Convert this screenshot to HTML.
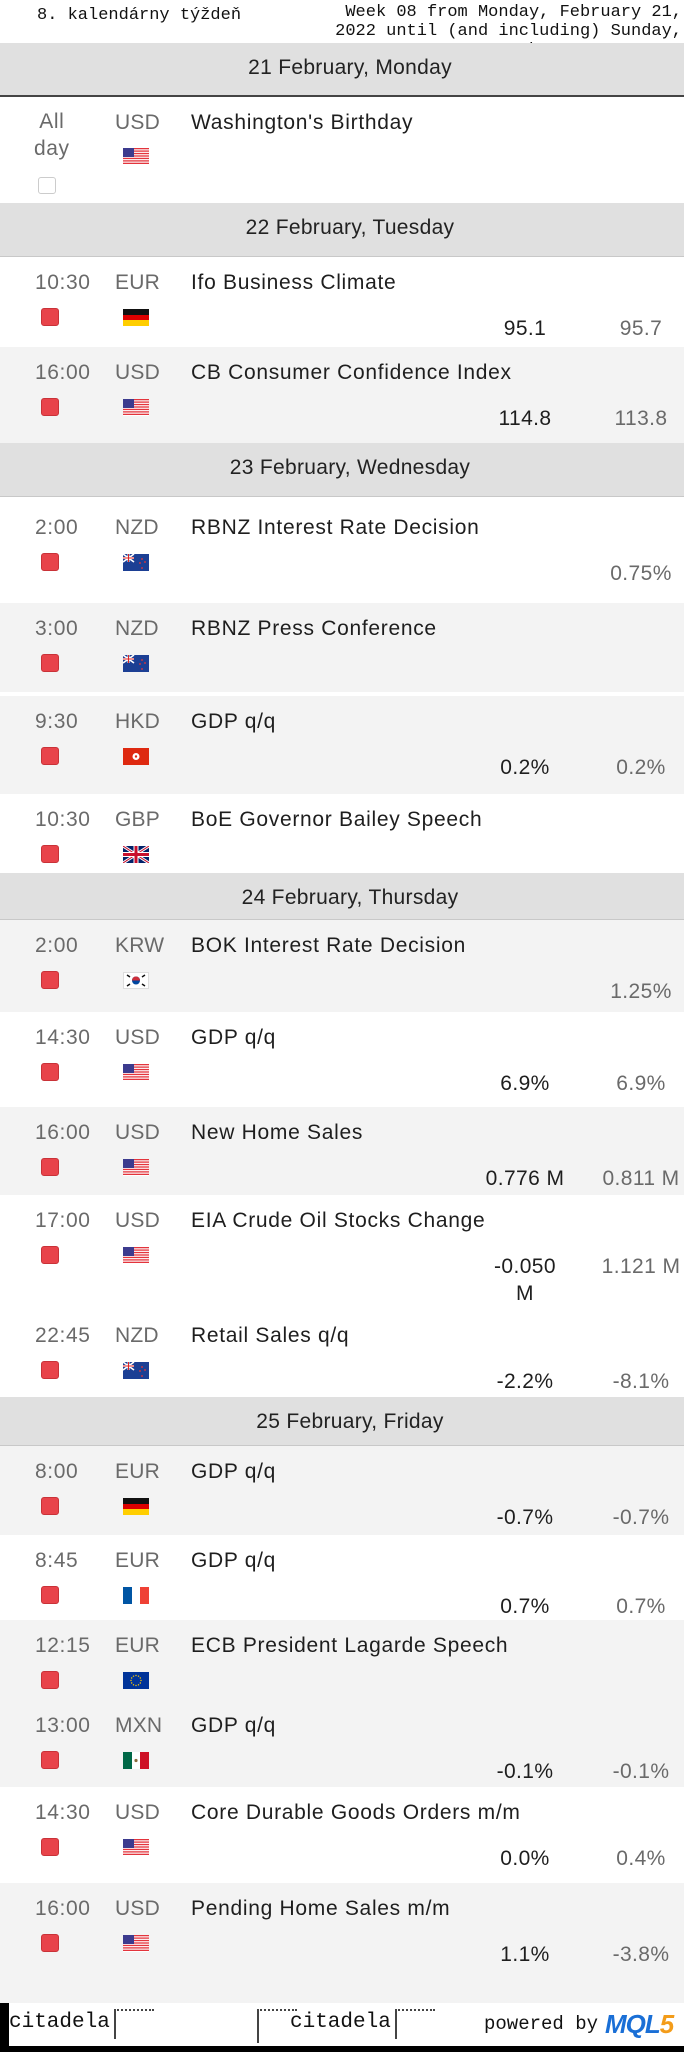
<!DOCTYPE html>
<html><head><meta charset="utf-8">
<style>
*{margin:0;padding:0;box-sizing:border-box}
html,body{width:684px;height:2052px;overflow:hidden;background:#fff}
body{position:relative;font-family:"Liberation Sans",sans-serif;}
.abs{position:absolute}
.row{position:absolute;left:0;width:684px}
.day{background:#e0e0e0;border-bottom:1px solid #c8c8c8;text-align:center;color:#222;font-size:21px;letter-spacing:0.3px}
.day span{position:absolute;left:0;width:700px;top:13px}
.t{position:absolute;left:35px;color:#6a6a6a;font-size:21px;letter-spacing:0.6px;white-space:nowrap}
.c{position:absolute;left:115px;color:#6a6a6a;font-size:21px;letter-spacing:0.2px}
.e{position:absolute;left:191px;color:#1e1e1e;font-size:21px;letter-spacing:0.7px;white-space:nowrap}
.imp{position:absolute;left:41px;width:18px;height:18px;background:#e8434a;border:1px solid #c93238;border-radius:3px}
.flag{position:absolute;left:123px;width:26px;height:17px}
.act{position:absolute;left:465px;width:120px;text-align:center;color:#1e1e1e;font-size:21px;letter-spacing:0.4px;line-height:27px}
.prev{position:absolute;left:596px;width:90px;text-align:center;color:#6a6a6a;font-size:21px;letter-spacing:0.4px;white-space:nowrap;line-height:27px}
.mono{font-family:"Liberation Mono",monospace}
</style></head><body>
<div class="abs mono" style="left:37px;top:6px;font-size:17px;color:#111">8. kalendárny týždeň</div>
<div class="abs mono" style="left:330px;top:3px;width:352px;height:40px;overflow:hidden;font-size:17px;line-height:19px;color:#111;text-align:right">Week 08 from Monday, February 21,<br>2022 until (and including) Sunday,<br>February 27, 2022</div>
<div id="cal"></div>
<div class="abs" style="left:0;top:2003px;width:684px;height:49px;background:#fff;border-left:9px solid #000;border-bottom:6px solid #000">
  <div class="abs mono" style="left:0;top:8px;font-size:21px;color:#111">citadela</div>
  <div class="abs" style="left:105px;top:6px;width:40px;height:30px;border-left:2px solid #444;border-top:2px dotted #444"></div>
  <div class="abs" style="left:248px;top:6px;width:40px;height:34px;border-left:2px solid #444;border-top:2px dotted #444"></div>
  <div class="abs mono" style="left:281px;top:8px;font-size:21px;color:#111">citadela</div>
  <div class="abs" style="left:386px;top:6px;width:40px;height:30px;border-left:2px solid #444;border-top:2px dotted #444"></div>
  <div class="abs mono" style="left:475px;top:10px;font-size:19px;color:#111">powered by</div>
  <div class="abs" style="left:596px;top:6px;font-size:26px;font-weight:bold;font-style:italic;color:#1a6fd6;letter-spacing:-1px">MQL<span style="color:#f39c1a">5</span></div>
</div>
<script>
function flag(k){
 var s='<svg width="26" height="17" viewBox="0 0 26 17">';
 if(k=='us'){s+='<rect width="26" height="17" fill="#fff"/>';for(var i=0;i<7;i++)s+='<rect y="'+(i*2.45)+'" width="26" height="1.3" fill="#e3343c"/>';s+='<rect width="11" height="9" fill="#3c3b8e"/>';}
 else if(k=='de')s+='<rect width="26" height="6" fill="#111"/><rect y="6" width="26" height="5" fill="#dd0000"/><rect y="11" width="26" height="6" fill="#ffce00"/>';
 else if(k=='nz')s+='<rect width="26" height="17" fill="#1c3f94"/><path d="M0 0L11 8M11 0L0 8" stroke="#fff" stroke-width="1.6"/><path d="M5.5 0V8M0 4H11" stroke="#fff" stroke-width="2"/><path d="M5.5 0V8M0 4H11" stroke="#d22" stroke-width="1"/><circle cx="19" cy="5" r="0.9" fill="#e33"/><circle cx="22" cy="8" r="0.9" fill="#e33"/><circle cx="17" cy="9" r="0.9" fill="#e33"/><circle cx="19" cy="14" r="0.9" fill="#e33"/>';
 else if(k=='hk')s+='<rect width="26" height="17" fill="#de2910"/><circle cx="13" cy="8.5" r="3.5" fill="#fff"/><circle cx="13" cy="8.5" r="1.2" fill="#de2910"/>';
 else if(k=='gb')s+='<rect width="26" height="17" fill="#012169"/><path d="M0 0L26 17M26 0L0 17" stroke="#fff" stroke-width="3"/><path d="M0 0L26 17M26 0L0 17" stroke="#c8102e" stroke-width="1"/><path d="M13 0V17M0 8.5H26" stroke="#fff" stroke-width="5"/><path d="M13 0V17M0 8.5H26" stroke="#c8102e" stroke-width="3"/>';
 else if(k=='kr')s+='<rect x="0.5" y="0.5" width="25" height="16" fill="#fff" stroke="#ddd"/><circle cx="13" cy="8.5" r="4" fill="#0047a0"/><path d="M9 8.5A4 4 0 0 1 17 8.5Z" fill="#cd2e3a"/><path d="M4 3l3 2M19 5l3-2M4 14l3-2M19 12l3 2" stroke="#111" stroke-width="1.5"/>';
 else if(k=='fr')s+='<rect width="9" height="17" fill="#0055a4"/><rect x="9" width="8" height="17" fill="#fff"/><rect x="17" width="9" height="17" fill="#ef4135"/>';
 else if(k=='eu'){s+='<rect width="26" height="17" fill="#003399"/>';for(var j=0;j<12;j++){var a=j*Math.PI/6;s+='<circle cx="'+(13+5*Math.cos(a))+'" cy="'+(8.5+5*Math.sin(a))+'" r="0.7" fill="#fc0"/>';}}
 else if(k=='mx')s+='<rect width="9" height="17" fill="#006847"/><rect x="9" width="8" height="17" fill="#fff"/><rect x="17" width="9" height="17" fill="#ce1126"/><circle cx="13" cy="8.5" r="1.6" fill="#8a6a3a"/>';
 return s+'</svg>';
}
var days=[
 {top:43,h:54,text:'21 February, Monday',dark:true},
 {top:203,h:54,text:'22 February, Tuesday'},
 {top:443,h:54,text:'23 February, Wednesday'},
 {top:873,h:47,text:'24 February, Thursday'},
 {top:1397,h:49,text:'25 February, Friday'}];
var events=[
 {top:97,h:106,bg:'#fff',time:'All<br>day',cur:'USD',flag:'us',name:"Washington's Birthday",act:'',prev:'',allday:true},
 {top:257,h:90,bg:'#fff',time:'10:30',cur:'EUR',flag:'de',name:'Ifo Business Climate',act:'95.1',prev:'95.7'},
 {top:347,h:96,bg:'#f3f3f3',time:'16:00',cur:'USD',flag:'us',name:'CB Consumer Confidence Index',act:'114.8',prev:'113.8'},
 {top:497,h:106,bg:'#fff',time:'2:00',cur:'NZD',flag:'nz',name:'RBNZ Interest Rate Decision',act:'',prev:'0.75%',off:5},
 {top:603,h:89,bg:'#f3f3f3',time:'3:00',cur:'NZD',flag:'nz',name:'RBNZ Press Conference',act:'',prev:''},
 {top:696,h:98,bg:'#f3f3f3',time:'9:30',cur:'HKD',flag:'hk',name:'GDP q/q',act:'0.2%',prev:'0.2%'},
 {top:794,h:79,bg:'#fff',time:'10:30',cur:'GBP',flag:'gb',name:'BoE Governor Bailey Speech',act:'',prev:''},
 {top:920,h:92,bg:'#f3f3f3',time:'2:00',cur:'KRW',flag:'kr',name:'BOK Interest Rate Decision',act:'',prev:'1.25%'},
 {top:1012,h:95,bg:'#fff',time:'14:30',cur:'USD',flag:'us',name:'GDP q/q',act:'6.9%',prev:'6.9%'},
 {top:1107,h:88,bg:'#f3f3f3',time:'16:00',cur:'USD',flag:'us',name:'New Home Sales',act:'0.776 M',prev:'0.811 M'},
 {top:1195,h:115,bg:'#fff',time:'17:00',cur:'USD',flag:'us',name:'EIA Crude Oil Stocks Change',act:'-0.050<br>M',prev:'1.121 M'},
 {top:1310,h:87,bg:'#fff',time:'22:45',cur:'NZD',flag:'nz',name:'Retail Sales q/q',act:'-2.2%',prev:'-8.1%'},
 {top:1446,h:89,bg:'#f3f3f3',time:'8:00',cur:'EUR',flag:'de',name:'GDP q/q',act:'-0.7%',prev:'-0.7%'},
 {top:1535,h:85,bg:'#fff',time:'8:45',cur:'EUR',flag:'fr',name:'GDP q/q',act:'0.7%',prev:'0.7%'},
 {top:1620,h:80,bg:'#f3f3f3',time:'12:15',cur:'EUR',flag:'eu',name:'ECB President Lagarde Speech',act:'',prev:''},
 {top:1700,h:87,bg:'#f3f3f3',time:'13:00',cur:'MXN',flag:'mx',name:'GDP q/q',act:'-0.1%',prev:'-0.1%'},
 {top:1787,h:96,bg:'#fff',time:'14:30',cur:'USD',flag:'us',name:'Core Durable Goods Orders m/m',act:'0.0%',prev:'0.4%'},
 {top:1883,h:120,bg:'#f3f3f3',time:'16:00',cur:'USD',flag:'us',name:'Pending Home Sales m/m',act:'1.1%',prev:'-3.8%'}];
var cal=document.getElementById('cal');
days.forEach(function(d){
 var el=document.createElement('div');
 el.className='row day';
 el.style.top=d.top+'px';el.style.height=d.h+'px';
 if(d.dark)el.style.borderBottom='2px solid #444';
 el.innerHTML='<span>'+d.text+'</span>';
 
 
 cal.appendChild(el);
});
events.forEach(function(ev){
 var o=ev.off||0;
 var r=document.createElement('div');
 r.className='row';
 r.style.top=ev.top+'px';r.style.height=ev.h+'px';r.style.background=ev.bg;
 
 
 var t=document.createElement('div');t.className='t';t.style.top=(14+o)+'px';t.innerHTML=ev.time;
 if(ev.allday){t.style.left='34px';t.style.textAlign='center';t.style.lineHeight='27px';t.style.top='11px';}
 
 
 r.appendChild(t);
 var c=document.createElement('div');c.className='c';c.style.top=(14+o)+'px';c.textContent=ev.cur;
 
 
 r.appendChild(c);
 var f=document.createElement('div');f.className='flag';f.style.top=(52+o)+'px';f.innerHTML=flag(ev.flag);
 if(ev.allday)f.style.top='51px';
 
 
 r.appendChild(f);
 var e=document.createElement('div');e.className='e';e.style.top=(14+o)+'px';e.textContent=ev.name;
 
 
 r.appendChild(e);
 if(ev.allday){
  var cb=document.createElement('div');cb.className='abs';
  cb.style.cssText='left:38px;top:80px;width:18px;height:17px;border:1px solid #ccc;border-radius:3px;background:#fff';
  
  
  r.appendChild(cb);
 } else {
  var im=document.createElement('div');im.className='imp';im.style.top=(51+o)+'px';
  
  
  r.appendChild(im);
 }
 if(ev.act){
  var a=document.createElement('div');a.className='act';a.style.top=(58+o)+'px';a.innerHTML=ev.act;
  
  
  r.appendChild(a);
 }
 if(ev.prev){
  var p=document.createElement('div');p.className='prev';p.style.top=(58+o)+'px';p.textContent=ev.prev;
  
  
  r.appendChild(p);
 }
 cal.appendChild(r);
});
</script>
</body></html>
